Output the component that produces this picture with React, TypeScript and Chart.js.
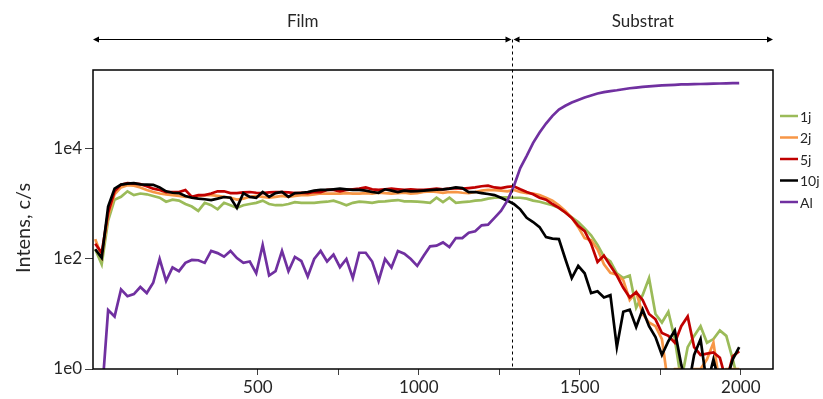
import React, { useEffect, useRef } from 'react';
import { Chart, registerables } from 'chart.js';

Chart.register(...registerables);

// Depth (x) positions of the profile samples
const depth = [
  -5, 15, 35, 55, 75, 95, 115, 135, 155, 175,
  195, 215, 235, 255, 275, 295, 315, 335, 355, 375,
  395, 415, 435, 455, 475, 495, 515, 535, 555, 575,
  595, 615, 635, 655, 675, 695, 715, 735, 755, 775,
  795, 815, 835, 855, 875, 895, 915, 935, 955, 975,
  995, 1015, 1035, 1055, 1075, 1095, 1115, 1135, 1155, 1175,
  1195, 1215, 1235, 1255, 1275, 1295, 1315, 1335, 1355, 1375,
  1395, 1415, 1435, 1455, 1475, 1495, 1515, 1535, 1555, 1575,
  1595, 1615, 1635, 1655, 1675, 1695, 1715, 1735, 1755, 1775,
  1795, 1815, 1835, 1855, 1875, 1895, 1915, 1935, 1955, 1975,
  1995,
];

const s1j = [
  150, 80, 500, 1200, 1350, 1700, 1450, 1550, 1500, 1400,
  1300, 1100, 1200, 1150, 1000, 900, 750, 1050, 950, 800,
  1050, 950, 850, 950, 1000, 1050, 1150, 1000, 950, 950,
  1000, 1080, 1050, 1050, 1050, 1080, 1100, 1150, 1050, 950,
  1050, 1100, 1080, 1050, 1100, 1120, 1150, 1180, 1120, 1120,
  1100, 1080, 1050, 1300, 1080, 1300, 1050, 1080, 1100, 1150,
  1180, 1250, 1300, 1320, 1320, 1300, 1300, 1250, 1150, 1100,
  1020, 950, 850, 700, 570, 470, 360, 270, 180, 110,
  90, 55, 45, 50, 13, 22, 45, 10, 7, 11,
  3.5, 0.6, 2.5, 4, 6, 3, 3.5, 5, 4, 1.5,
  0.5,
];

const s2j = [
  230, 110, 600, 1500, 2000, 2200, 2150, 2000, 1800, 1650,
  1550, 1500, 1450, 1400, 1350, 1350, 1400, 1450, 1450, 1400,
  1350, 1300, 1200, 1250, 1350, 1400, 1350, 1300, 1350, 1400,
  1350, 1400, 1450, 1450, 1500, 1550, 1550, 1550, 1550, 1580,
  1550, 1550, 1580, 1550, 1600, 1580, 1550, 1580, 1600, 1550,
  1580, 1650, 1700, 1650, 1600, 1650, 1650, 1600, 1580, 1650,
  1750, 1800, 1780, 1750, 1700, 1800, 1650, 1580, 1550, 1450,
  1300, 1150, 950, 750, 560, 380, 240, 220, 150, 80,
  56, 52, 41, 18, 25, 10, 7, 6, 3.5, 0.5,
  1, 1, 0.5, 1, 1, 1.5, 3, 0.5, 1, 1,
  1,
];

const s5j = [
  190, 130, 700, 1700, 2250, 2400, 2350, 2300, 2100, 1900,
  1800, 1650, 1650, 1650, 1800, 1350, 1450, 1450, 1550, 1700,
  1700, 1580, 1580, 1620, 1650, 1600, 1580, 1620, 1650, 1650,
  1620, 1580, 1600, 1580, 1650, 1650, 1800, 1800, 1700, 1800,
  1850, 1900, 2000, 1850, 1800, 1850, 1900, 1850, 1800, 1850,
  1800, 1800, 1850, 1900, 1850, 1900, 1950, 1900, 1950, 2000,
  2100, 2150, 2000, 1950, 2050, 2100, 1850, 1650, 1500, 1300,
  1200, 1000, 850, 700, 560, 400, 320, 190, 88, 115,
  75, 50, 30, 20, 25, 18, 10, 8, 4.5, 4,
  3, 6, 9, 2.5, 1.8, 1.9, 2, 1.6, 0.6, 1.7,
  2.1,
];

const s10j = [
  150, 105, 900, 1900, 2250, 2350, 2400, 2280, 2250, 2230,
  2000, 1700, 1600, 1580, 1400, 1300, 1250, 1220, 1180, 1250,
  1340, 1300, 850, 1580, 1350, 1300, 1650, 1350, 1580, 1650,
  1350, 1580, 1600, 1650, 1750, 1800, 1800, 1850, 1900, 1850,
  1800, 1800, 1750, 1650, 1600, 1850, 1750, 1650, 1750, 1700,
  1720, 1750, 1780, 1820, 1850, 1900, 2000, 1950, 1650, 1650,
  1580, 1520, 1450, 1300, 1150, 1000, 800, 560, 470, 380,
  250, 235, 230, 100, 45, 75, 55, 24, 26, 20,
  22, 2.5, 11, 12, 5.8, 12, 6, 3.8, 1.8, 3.2,
  5, 1.2, 0.4, 1.8, 3.5, 0.5, 1.5, 0.5, 0.6, 1.5,
  2.5,
];

const sAl = [
  null, 0.3, 11.8, 9, 28, 21, 23, 31, 24, 37,
  100, 40, 70, 60, 85, 96, 95, 85, 140, 128,
  110, 140, 104, 85, 90, 55, 180, 50, 60, 140,
  60, 109, 92, 48, 100, 140, 90, 120, 71, 100,
  45, 130, 130, 90, 40, 100, 70, 140, 125, 100,
  75, 115, 170, 175, 200, 165, 240, 240, 300, 320,
  410, 420, 560, 750, 1150, 2100, 4500, 7500, 12900, 20000,
  29000, 40000, 52000, 61000, 70000, 78000, 86000, 94000, 102000, 108000,
  113000, 117000, 122000, 127000, 131000, 135000, 138000, 141000, 143000, 145000,
  147000, 149000, 150000, 151000, 152000, 153000, 154000, 155000, 156000, 157000,
  158000,
];

const seriesLabels = ['1j', '2j', '5j', '10j', 'Al'];
const seriesColors = ['#9BBB59', '#F79646', '#C00000', '#000000', '#7030A0'];
const seriesValues = [s1j, s2j, s5j, s10j, sAl];

const xTickValues = [250, 500, 750, 1000, 1250, 1500, 1750, 2000];
const xTickLabels = ['', '500', '', '1000', '', '1500', '', '2000'];
const yTickValues = [1, 100, 10000];
const yTickLabels = ['1e0', '1e2', '1e4'];
const boundary = 1290;
const regionLabels = ['Film', 'Substrat'];
const yTitle = 'Intens, c/s';

const FONT = 'Lato, "Open Sans", sans-serif';
const TEXT = '#262626';

function arrowHead(ctx: CanvasRenderingContext2D, x: number, y: number, dir: number) {
  ctx.beginPath();
  ctx.moveTo(x, y);
  ctx.lineTo(x + dir * 6, y - 3);
  ctx.lineTo(x + dir * 6, y + 3);
  ctx.closePath();
  ctx.fill();
}

function arrow(ctx: CanvasRenderingContext2D, x1: number, x2: number, y: number) {
  ctx.beginPath();
  ctx.moveTo(x1 + 2, y);
  ctx.lineTo(x2 - 2, y);
  ctx.stroke();
  arrowHead(ctx, x1, y, 1);
  arrowHead(ctx, x2, y, -1);
}

const annotPlugin = {
  id: 'annot',
  afterDraw(chart: any) {
    const { ctx, chartArea: a } = chart;
    const x = chart.scales.x;
    const bx = Math.round(x.getPixelForValue(boundary)) + 0.5;
    const arrowY = 39.5;
    ctx.save();
    // frame
    ctx.strokeStyle = '#000';
    ctx.lineWidth = 1.5;
    ctx.strokeRect(a.left, a.top, a.right - a.left, a.bottom - a.top);
    // dashed boundary
    ctx.lineWidth = 1;
    ctx.setLineDash([3, 3]);
    ctx.beginPath();
    ctx.moveTo(bx, arrowY);
    ctx.lineTo(bx, a.bottom);
    ctx.stroke();
    ctx.setLineDash([]);
    // arrows
    ctx.fillStyle = '#000';
    arrow(ctx, a.left, bx - 1, arrowY);
    arrow(ctx, bx + 1, a.right, arrowY);
    // region labels
    ctx.fillStyle = TEXT;
    ctx.font = `17px ${FONT}`;
    ctx.textAlign = 'center';
    ctx.textBaseline = 'middle';
    ctx.fillText(regionLabels[0], (a.left + bx) / 2, 22);
    ctx.fillText(regionLabels[1], (bx + a.right) / 2, 22);
    // y axis title
    ctx.save();
    ctx.translate(24, 228);
    ctx.rotate(-Math.PI / 2);
    ctx.font = `20px ${FONT}`;
    ctx.fillText(yTitle, 0, 0);
    ctx.restore();
    // legend
    ctx.textAlign = 'left';
    ctx.font = `14px ${FONT}`;
    seriesLabels.forEach((lab, i) => {
      const y = 116 + i * 21.5;
      ctx.strokeStyle = seriesColors[i];
      ctx.lineWidth = 2.5;
      ctx.beginPath();
      ctx.moveTo(780, y);
      ctx.lineTo(798, y);
      ctx.stroke();
      ctx.fillStyle = TEXT;
      ctx.fillText(lab, 800, y + 1);
    });
    ctx.restore();
  },
};

export default function App() {
  const ref = useRef<HTMLCanvasElement>(null);
  useEffect(() => {
    const datasets = seriesLabels.map((lab, i) => ({
      label: lab,
      data: depth.map((d, j) => ({ x: d, y: seriesValues[i][j] })),
      borderColor: seriesColors[i],
      backgroundColor: seriesColors[i],
      borderWidth: 2.7,
      pointRadius: 0,
      tension: 0,
      clip: 0,
      order: seriesLabels.length - 1 - i,
    }));
    const chart = new Chart(ref.current as HTMLCanvasElement, {
      type: 'line',
      data: { datasets: datasets as any },
      options: {
        responsive: false,
        animation: false,
        layout: { padding: { top: 70, right: 50, left: 0, bottom: 0 } },
        plugins: { legend: { display: false }, tooltip: { enabled: false } },
        scales: {
          x: {
            type: 'linear',
            min: -12,
            max: 2100,
            afterFit: (s: any) => { s.height = 30; },
            afterBuildTicks: (s: any) => { s.ticks = xTickValues.map((v) => ({ value: v })); },
            ticks: {
              autoSkip: false,
              maxRotation: 0,
              padding: 2,
              color: TEXT,
              font: { family: FONT, size: 17 },
              callback: (_v: any, i: number) => xTickLabels[i],
            },
            grid: { drawOnChartArea: false, drawTicks: true, tickLength: 6, color: '#404040' },
            border: { display: false },
          },
          y: {
            type: 'logarithmic',
            min: 1,
            max: 273000,
            afterFit: (s: any) => { s.width = 93; },
            afterBuildTicks: (s: any) => { s.ticks = yTickValues.map((v) => ({ value: v })); },
            ticks: {
              autoSkip: false,
              padding: 3,
              color: TEXT,
              font: { family: FONT, size: 17 },
              callback: (_v: any, i: number) => yTickLabels[i],
            },
            grid: { drawOnChartArea: false, drawTicks: true, tickLength: 8, color: '#404040' },
            border: { display: false },
            title: { display: false, text: yTitle },
          },
        },
      },
      plugins: [annotPlugin],
    });
    return () => chart.destroy();
  }, []);
  return (
    <div style={{ position: 'fixed', left: 0, top: 0, width: 823, height: 399, background: '#fff' }}>
      <canvas ref={ref} width={823} height={399} style={{ display: 'block' }} />
    </div>
  );
}
